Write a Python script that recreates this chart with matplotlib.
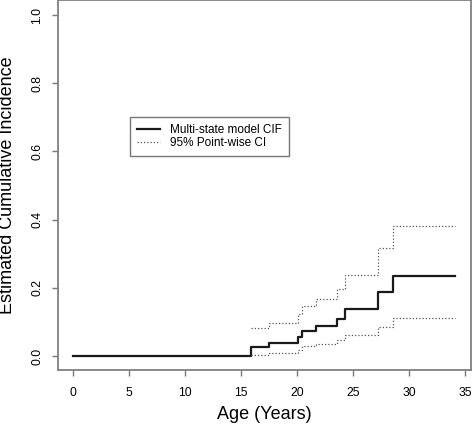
import numpy as np
import matplotlib
matplotlib.use("Agg")
import matplotlib.pyplot as plt

plt.rcParams['font.family'] = ['Liberation Sans', 'DejaVu Sans']

# event times (years) and step heights
times = [0, 15.9, 17.55, 20.14, 20.5, 21.7, 23.58, 24.27, 27.24, 28.6, 34.16]
cif = [0.0, 0.027, 0.039, 0.055, 0.074, 0.087, 0.109, 0.138, 0.187, 0.235, 0.235]

ci_times = [15.9, 17.55, 20.14, 20.5, 21.7, 23.58, 24.27, 27.24, 28.6, 34.16]
ci_upper = [0.081, 0.097, 0.122, 0.148, 0.167, 0.196, 0.239, 0.318, 0.382, 0.382]
ci_lower = [0.003, 0.010, 0.018, 0.028, 0.035, 0.047, 0.063, 0.084, 0.111, 0.111]

xticks = [0, 5, 10, 15, 20, 25, 30, 35]
yticks = [0.0, 0.2, 0.4, 0.6, 0.8, 1.0]

fig = plt.figure(figsize=(4.72, 4.30), dpi=100)
ax = fig.add_axes([57.5 / 472, 60 / 430, (470.5 - 57.5) / 472, 370 / 430])

ax.step(times, cif, where='post', color='#1a1a1a', lw=1.6, label='Multi-state model CIF')
ax.step(ci_times, ci_upper, where='post', color='#555555', lw=0.9,
        linestyle=(0, (1, 1.6)), label='95% Point-wise CI')
ax.step(ci_times, ci_lower, where='post', color='#555555', lw=0.9,
        linestyle=(0, (1, 1.6)))

ax.set_xlim(-1.37, 35.5)
ax.set_ylim(-0.041, 1.044)
ax.set_xticks(xticks)
ax.set_xticklabels([str(t) for t in xticks], fontsize=8.7)
ax.set_yticks(yticks)
ax.set_yticklabels(['%.1f' % t for t in yticks], fontsize=8.7, rotation=90, va='center')
ax.tick_params(length=4.3, width=1.0, color='#777777')
ax.tick_params(axis='x', pad=8)
ax.tick_params(axis='y', pad=6)

for s in ax.spines.values():
    s.set_color('#808080')
    s.set_linewidth(1.3)

ax.set_xlabel('Age (Years)', fontsize=13)
ax.xaxis.set_label_coords(0.5, -36 / 370)
ax.set_ylabel('Estimated Cumulative Incidence', fontsize=13)
ax.yaxis.set_label_coords(-41 / 413, 0.5)

leg = ax.legend(loc='upper left', bbox_to_anchor=(130 / 472, 1 - 117 / 430),
                bbox_transform=fig.transFigure, fontsize=8.5, borderaxespad=0,
                frameon=True, fancybox=False, handlelength=1.9, borderpad=0.6,
                labelspacing=0.1, handletextpad=0.9)
leg.get_frame().set_edgecolor('#555555')
leg.get_frame().set_linewidth(1.0)

fig.savefig('out.png', dpi=100)
